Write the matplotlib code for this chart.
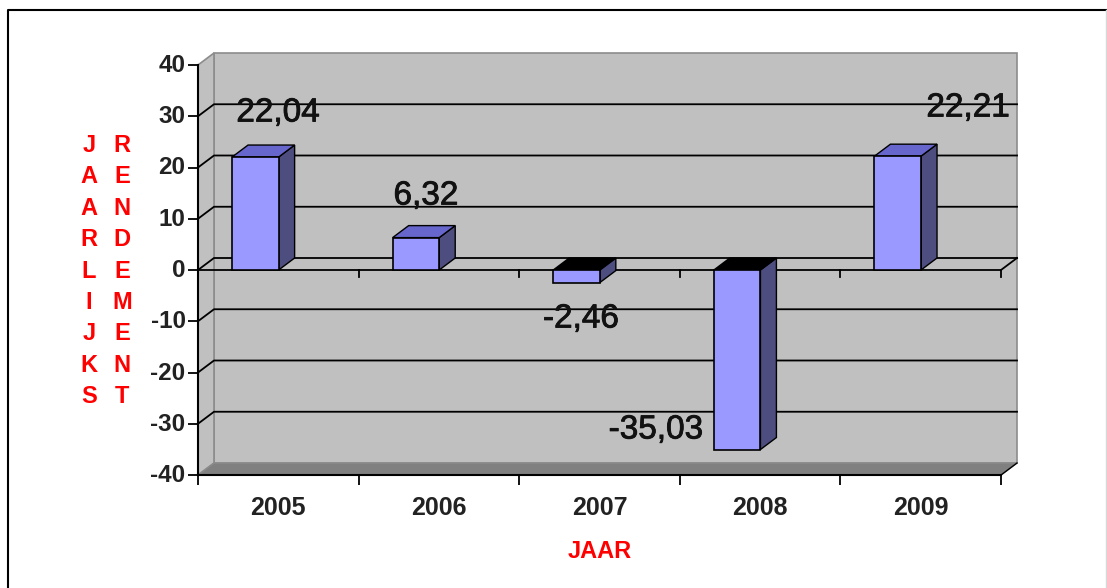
import matplotlib
matplotlib.use("Agg")
import matplotlib.pyplot as plt
import matplotlib.patheffects as pe
from matplotlib.lines import Line2D
from matplotlib.patches import Polygon, Rectangle
from matplotlib.transforms import ScaledTranslation

plt.rcParams['font.family'] = ['Liberation Sans', 'DejaVu Sans']
plt.rcParams['axes.unicode_minus'] = False

years = ['2005', '2006', '2007', '2008', '2009']
rendement = [22.04, 6.32, -2.46, -35.03, 22.21]
labels = ['22,04', '6,32', '-2,46', '-35,03', '22,21']
yticks = [40, 30, 20, 10, 0, -10, -20, -30, -40]

W, H = 1107, 588
# plot box in pixels
left, right, top, bottom = 198, 1001, 65, 475
# depth of the fake 3d, in data units
dx = 16 / 160.6
dy = 12 / 5.125
bar_w = 0.29
bar_shift = 0.143

fig = plt.figure(figsize=(W / 100, H / 100), dpi=100)
# page frame: black on top and left, only a faint line on the right
fig.add_artist(Line2D([8 / W, 8 / W, 1], [0, 1 - 10 / H, 1 - 10 / H], color='black', lw=1.5))
fig.add_artist(Line2D([1106 / W, 1106 / W], [0, 1 - 10 / H], color='#d8d8d8', lw=1))

ax = fig.add_axes([left / W, 1 - bottom / H, (right - left) / W, (bottom - top) / H])
ax.set_xlim(0, 5)
ax.set_ylim(-40, 40)
ax.patch.set_visible(False)

def poly(pts, fc, ec='none', z=1, lw=1.0):
    ax.add_patch(Polygon(pts, closed=True, fc=fc, ec=ec, lw=lw, zorder=z, clip_on=False))

# walls and floor
poly([(dx, -40 + dy), (5 + dx, -40 + dy), (5 + dx, 40 + dy), (dx, 40 + dy)], '#c0c0c0', '#8c8c8c', 1, 1.2)
poly([(0, -40), (dx, -40 + dy), (dx, 40 + dy), (0, 40)], '#c0c0c0', '#8c8c8c', 1, 1.2)
poly([(0, -40), (5, -40), (5 + dx, -40 + dy), (dx, -40 + dy)], '#808080', '#8c8c8c', 1.5, 1.0)

for v in yticks[1:-1]:
    ax.plot([0, dx, 5 + dx], [v, v + dy, v + dy], color='black', lw=1.3, zorder=2, clip_on=False)
ax.plot([0, 5, 5 + dx], [0, 0, dy], color='black', lw=1.3, zorder=2, clip_on=False)
ax.plot([5, 5 + dx], [-40, -40 + dy], color='black', lw=1.0, zorder=2, clip_on=False)

# ticks on the zero line
for i in range(1, 6):
    ax.plot([i, i], [0, -1.4], color='black', lw=1.3, zorder=2, clip_on=False)

# bars
for i, v in enumerate(rendement):
    x0 = i + 0.5 - bar_shift - bar_w / 2
    x1 = x0 + bar_w
    high = max(v, 0)
    top_col = '#6666cc' if v > 0 else 'black'
    poly([(x1, 0), (x1 + dx, dy), (x1 + dx, v + dy), (x1, v)], '#4d4d80', 'black', 3)
    poly([(x0, high), (x1, high), (x1 + dx, high + dy), (x0 + dx, high + dy)], top_col, 'black', 3)
    ax.add_patch(Rectangle((x0, 0), bar_w, v, fc='#9999ff', ec='black', lw=1.2, zorder=4, clip_on=False))

# value labels, placed by pixel position of their centre
label_xy = [(278, 113), (426, 196), (581, 319), (656, 430), (968, 108)]
for lab, (px, py) in zip(labels, label_xy):
    ax.text((px - left) / 160.6, (bottom - py) / 5.125 - 40, lab, fontsize=24, ha='center', va='center',
            color='#111111', zorder=6, clip_on=False,
            path_effects=[pe.withStroke(linewidth=0.6, foreground='#111111')])

ax.spines['top'].set_visible(False)
ax.spines['right'].set_visible(False)
for s in ['left', 'bottom']:
    ax.spines[s].set_linewidth(1.5)
    ax.spines[s].set_zorder(5)

ax.set_yticks(yticks)
ax.set_xticks(range(6))
ax.set_xticklabels([])
ax.set_xticks([i + 0.5 for i in range(5)], minor=True)
ax.set_xticklabels(years, minor=True, fontsize=18, fontweight='bold', color='#222222')
ax.tick_params(axis='x', which='major', length=7, width=1.3)
ax.tick_params(axis='x', which='minor', length=0, pad=15)
ax.tick_params(axis='y', length=7, width=1.3, pad=2, labelsize=17.5)
# y labels sit a little above their ticks
up = ScaledTranslation(0, 2 / 100, fig.dpi_scale_trans)
for t in ax.get_yticklabels():
    t.set_fontweight('bold')
    t.set_color('#222222')
    t.set_verticalalignment('center_baseline')
    t.set_transform(t.get_transform() + up)

fig.text(600 / W, 1 - 552 / H, 'JAAR', color='red', fontsize=17, fontweight='bold', ha='center', va='center')
fig.text(89 / W, 1 - 271 / H, '\n'.join('JAARLIJKS'), color='red', fontsize=17, fontweight='bold',
         ha='center', va='center', ma='center', linespacing=1.465)
fig.text(122 / W, 1 - 271 / H, '\n'.join('RENDEMENT'), color='red', fontsize=17, fontweight='bold',
         ha='center', va='center', ma='center', linespacing=1.465)

fig.savefig('out.png', dpi=100)
